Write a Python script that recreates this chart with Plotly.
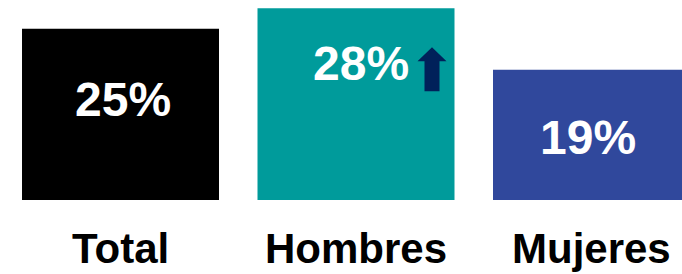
import plotly.graph_objects as go

categories = ["Total", "Hombres", "Mujeres"]
values = [25, 28, 19]
value_labels = ["25%", "28%", "19%"]

colors = ["#000000", "#009B9B", "#30489C"]
arrow_color = "#00215A"
# label offsets (pixels) relative to bar top / centre
label_xshift = [2, 4.5, -4]
label_yshift = [-70.5, -55, -67.5]

FONT = "Liberation Sans, Arial, sans-serif"

fig = go.Figure()
fig.add_trace(go.Bar(
    x=list(range(len(categories))),
    y=values,
    width=0.8365,
    marker=dict(color=colors, line=dict(width=0)),
    hoverinfo="skip",
))

for i, (v, lab) in enumerate(zip(values, value_labels)):
    fig.add_annotation(
        x=i, y=v, xref="x", yref="y", text=f"<b>{lab}</b>", showarrow=False,
        xanchor="center", yanchor="middle",
        xshift=label_xshift[i], yshift=label_yshift[i],
        font=dict(family=FONT, size=48, color="white"),
    )
    fig.add_annotation(
        x=i, y=0, xref="x", yref="y", text=f"<b>{categories[i]}</b>", showarrow=False,
        xanchor="center", yanchor="middle", yshift=-48,
        font=dict(family=FONT, size=42, color="black"),
    )

# up arrow next to Hombres value
hi = categories.index("Hombres")
arrow_path = ("M 76 -39 L 90.5 -53 L 83.5 -53 L 83.5 -83 L 68.5 -83 "
              "L 68.5 -53 L 61.5 -53 Z")
fig.add_shape(
    type="path", xref="x", yref="y", xsizemode="pixel", ysizemode="pixel",
    xanchor=hi, yanchor=values[hi], path=arrow_path,
    fillcolor=arrow_color, line=dict(width=0),
)

fig.update_layout(
    width=682, height=274,
    margin=dict(l=0, r=0, t=0, b=74, pad=0),
    paper_bgcolor="white", plot_bgcolor="white",
    showlegend=False,
    xaxis=dict(range=[-0.5117, 2.3843], visible=False, fixedrange=True),
    yaxis=dict(range=[0, 29.197], visible=False, fixedrange=True),
)

fig.write_html(
    "out.html",
    config={"displayModeBar": False},
    post_script="document.body.style.margin='0';document.body.style.overflow='hidden';",
)
